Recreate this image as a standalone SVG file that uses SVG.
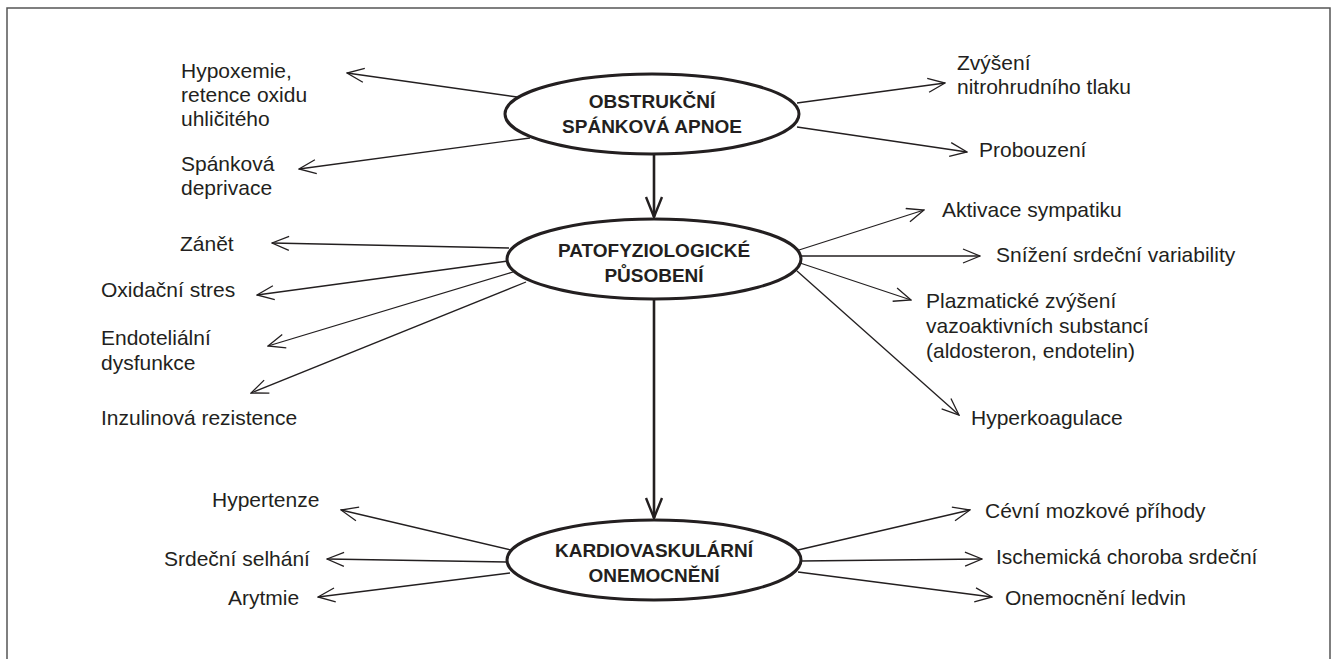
<svg xmlns="http://www.w3.org/2000/svg" width="1332" height="659" viewBox="0 0 1332 659">
<defs>
<style>
.lbl{font-family:"Liberation Sans",Arial,sans-serif;font-size:21px;fill:#231f20}
.ttl{font-family:"Liberation Sans",Arial,sans-serif;font-size:19px;font-weight:bold;fill:#231f20;text-anchor:middle}
.node{fill:#fff;stroke:#231f20;stroke-width:3}
.thin{stroke:#231f20;stroke-width:1.3;fill:none;marker-end:url(#ah)}
.thick{stroke:#231f20;stroke-width:2.6;fill:none;marker-end:url(#ahb)}
</style>
<marker id="ah" markerUnits="userSpaceOnUse" viewBox="-1 -1 19 16" refX="17" refY="7" markerWidth="19" markerHeight="16" orient="auto">
<path d="M0,0 L17,7 L0,14" fill="none" stroke="#231f20" stroke-width="1.3"/>
</marker>
<marker id="ahb" markerUnits="userSpaceOnUse" viewBox="-2 -2 24 20" refX="20" refY="8" markerWidth="24" markerHeight="20" orient="auto">
<path d="M0,0 L20,8 L0,16" fill="none" stroke="#231f20" stroke-width="2.4"/>
</marker>
</defs>
<rect x="7" y="8" width="1323" height="720" fill="#fff" stroke="#555" stroke-width="1.5"/>
<g id="connectors">
<line class="thick" x1="654" y1="154" x2="654" y2="217"/>
<line class="thick" x1="654" y1="300" x2="654" y2="518"/>
<line class="thin" x1="517" y1="97" x2="347" y2="73"/>
<line class="thin" x1="530" y1="138" x2="299" y2="169"/>
<line class="thin" x1="797" y1="103" x2="945" y2="83"/>
<line class="thin" x1="797" y1="127" x2="967" y2="152"/>
<line class="thin" x1="509" y1="248" x2="272" y2="243"/>
<line class="thin" x1="508" y1="261" x2="257" y2="295"/>
<line class="thin" x1="513" y1="272" x2="268" y2="346"/>
<line class="thin" x1="526" y1="282" x2="251" y2="393"/>
<line class="thin" x1="799" y1="250" x2="924" y2="210"/>
<line class="thin" x1="801" y1="256" x2="980" y2="256"/>
<line class="thin" x1="800" y1="263" x2="911" y2="300"/>
<line class="thin" x1="797" y1="271" x2="959" y2="415"/>
<line class="thin" x1="511" y1="550" x2="341" y2="510"/>
<line class="thin" x1="507" y1="562" x2="327" y2="559"/>
<line class="thin" x1="510" y1="573" x2="318" y2="597"/>
<line class="thin" x1="798" y1="550" x2="970" y2="510"/>
<line class="thin" x1="801" y1="561" x2="982" y2="559"/>
<line class="thin" x1="798" y1="572" x2="992" y2="597"/>
</g>
<g id="osa">
<ellipse class="node" cx="652" cy="114" rx="147" ry="40"/>
<text class="ttl" x="652" y="108">OBSTRUKČNÍ</text>
<text class="ttl" x="652" y="133">SPÁNKOVÁ APNOE</text>
</g>
<g id="pato">
<ellipse class="node" cx="654" cy="259" rx="147" ry="40"/>
<text class="ttl" x="654" y="257">PATOFYZIOLOGICKÉ</text>
<text class="ttl" x="654" y="282">PŮSOBENÍ</text>
</g>
<g id="kardio">
<ellipse class="node" cx="654" cy="560" rx="147" ry="40"/>
<text class="ttl" x="654" y="557">KARDIOVASKULÁRNÍ</text>
<text class="ttl" x="654" y="582">ONEMOCNĚNÍ</text>
</g>
<g id="hypoxemie"><text class="lbl" x="181" y="78">Hypoxemie,</text><text class="lbl" x="181" y="102">retence oxidu</text><text class="lbl" x="181" y="126">uhličitého</text></g>
<g id="spankova"><text class="lbl" x="181" y="171">Spánková</text><text class="lbl" x="181" y="195">deprivace</text></g>
<g id="zvyseni"><text class="lbl" x="957" y="70">Zvýšení</text><text class="lbl" x="957" y="94">nitrohrudního tlaku</text></g>
<g id="probouzeni"><text class="lbl" x="979" y="157">Probouzení</text></g>
<g id="zanet"><text class="lbl" x="180" y="251">Zánět</text></g>
<g id="oxidacni"><text class="lbl" x="101" y="297">Oxidační stres</text></g>
<g id="endotelialni"><text class="lbl" x="101" y="345">Endoteliální</text><text class="lbl" x="101" y="370">dysfunkce</text></g>
<g id="inzulinova"><text class="lbl" x="101" y="425">Inzulinová rezistence</text></g>
<g id="aktivace"><text class="lbl" x="942" y="217">Aktivace sympatiku</text></g>
<g id="snizeni"><text class="lbl" x="996" y="262">Snížení srdeční variability</text></g>
<g id="plazmaticke"><text class="lbl" x="926" y="308">Plazmatické zvýšení</text><text class="lbl" x="926" y="333">vazoaktivních substancí</text><text class="lbl" x="926" y="358">(aldosteron, endotelin)</text></g>
<g id="hyperkoagulace"><text class="lbl" x="971" y="425">Hyperkoagulace</text></g>
<g id="hypertenze"><text class="lbl" x="212" y="507">Hypertenze</text></g>
<g id="srdecni"><text class="lbl" x="164" y="566">Srdeční selhání</text></g>
<g id="arytmie"><text class="lbl" x="228" y="605">Arytmie</text></g>
<g id="cevni"><text class="lbl" x="985" y="518">Cévní mozkové příhody</text></g>
<g id="ischemicka"><text class="lbl" x="996" y="564">Ischemická choroba srdeční</text></g>
<g id="ledviny"><text class="lbl" x="1005" y="605">Onemocnění ledvin</text></g>
</svg>
